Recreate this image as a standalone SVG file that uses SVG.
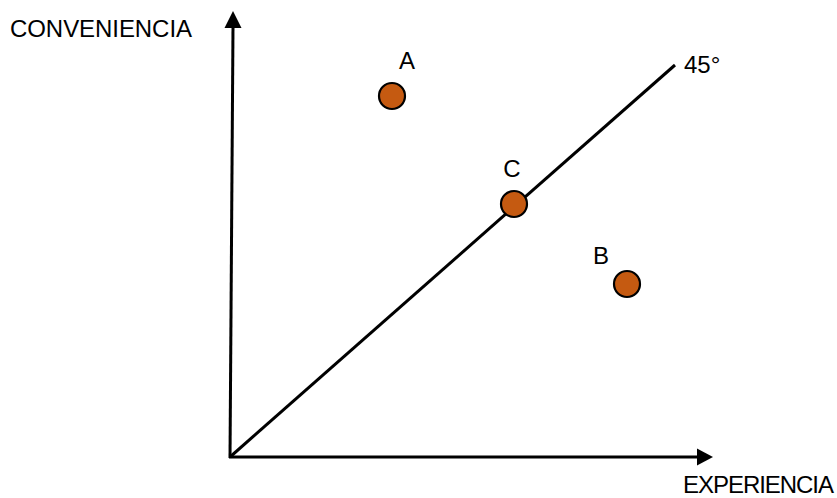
<svg xmlns="http://www.w3.org/2000/svg" width="837" height="498" viewBox="0 0 837 498">
<style>
text{font-family:"Liberation Sans",Arial,sans-serif;font-size:24px;fill:#000}
.ax{stroke:#000;stroke-width:3;fill:none}
.pt{fill:#C55A11;stroke:#000;stroke-width:2.2}
</style>
<rect width="837" height="498" fill="#fff"/>
<g id="connectors">
<line class="ax" x1="230" y1="458" x2="233" y2="27"/>
<path d="M224.5,28 L233,11 L241.5,28 Z" fill="#000"/>
<line class="ax" x1="229" y1="457" x2="698" y2="457"/>
<path d="M697,448.5 L713,457 L697,465.5 Z" fill="#000"/>
<line class="ax" x1="230" y1="457" x2="675" y2="65"/>
</g>
<g id="label-y"><text x="10" y="37" textLength="182">CONVENIENCIA</text></g>
<g id="label-x"><text x="683" y="493" font-size="23" textLength="151">EXPERIENCIA</text></g>
<g id="label-45"><text x="684" y="73">45°</text></g>
<g id="node-A"><circle class="pt" cx="392" cy="96" r="13"/><text x="407" y="69" text-anchor="middle" font-size="22">A</text></g>
<g id="node-C"><circle class="pt" cx="514" cy="204" r="13"/><text x="512" y="177" text-anchor="middle" font-size="22">C</text></g>
<g id="node-B"><circle class="pt" cx="627" cy="284" r="13"/><text x="601" y="264" text-anchor="middle" font-size="22">B</text></g>
</svg>
